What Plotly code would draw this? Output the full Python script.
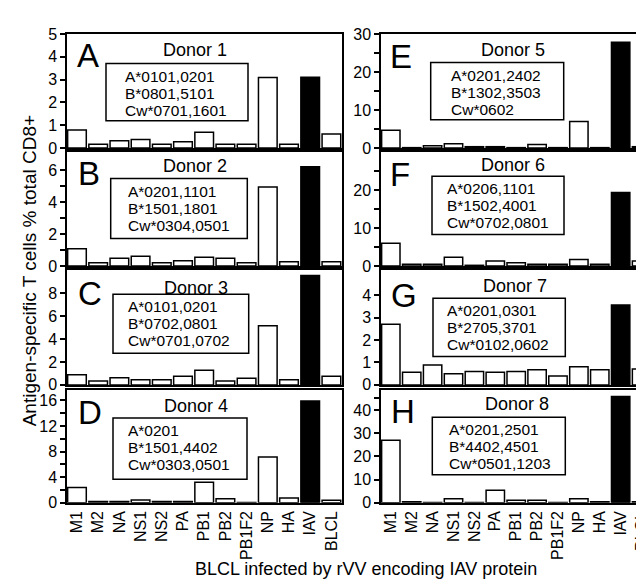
import plotly.graph_objects as go

# ---------------- data ----------------
categories = ["M1", "M2", "NA", "NS1", "NS2", "PA", "PB1", "PB2", "PB1F2", "NP", "HA", "IAV", "BLCL"]

donor1 = [0.79, 0.16, 0.32, 0.37, 0.16, 0.27, 0.69, 0.16, 0.16, 3.09, 0.16, 3.10, 0.62]
donor2 = [1.07, 0.20, 0.48, 0.60, 0.20, 0.32, 0.54, 0.48, 0.20, 4.93, 0.26, 6.20, 0.26]
donor3 = [0.88, 0.34, 0.62, 0.45, 0.45, 0.76, 1.27, 0.34, 0.57, 5.16, 0.45, 9.55, 0.76]
donor4 = [2.40, 0.20, 0.20, 0.46, 0.20, 0.20, 3.20, 0.62, 0.05, 7.16, 0.77, 15.9, 0.40]
donor5 = [4.70, 0.10, 0.60, 1.10, 0.35, 0.35, 0.10, 0.90, 0.10, 7.00, 0.10, 27.8, 0.35]
donor6 = [6.00, 0.43, 0.43, 2.30, 0.17, 1.30, 0.86, 0.43, 0.43, 1.70, 0.43, 19.4, 1.30]
donor7 = [2.70, 0.56, 0.89, 0.50, 0.60, 0.56, 0.60, 0.67, 0.39, 0.81, 0.67, 3.56, 0.71]
donor8 = [27.0, 0.50, 0.10, 1.80, 0.10, 5.40, 1.10, 1.10, 0.10, 1.80, 0.50, 45.8, 0.50]

panel_letters = ["A", "B", "C", "D", "E", "F", "G", "H"]
donor_names = ["Donor 1", "Donor 2", "Donor 3", "Donor 4", "Donor 5", "Donor 6", "Donor 7", "Donor 8"]
hla_lines = [
    ["A*0101,0201", "B*0801,5101", "Cw*0701,1601"],
    ["A*0201,1101", "B*1501,1801", "Cw*0304,0501"],
    ["A*0101,0201", "B*0702,0801", "Cw*0701,0702"],
    ["A*0201", "B*1501,4402", "Cw*0303,0501"],
    ["A*0201,2402", "B*1302,3503", "Cw*0602"],
    ["A*0206,1101", "B*1502,4001", "Cw*0702,0801"],
    ["A*0201,0301", "B*2705,3701", "Cw*0102,0602"],
    ["A*0201,2501", "B*4402,4501", "Cw*0501,1203"],
]
y_ranges = [[0, 5], [0, 7.1], [0, 10], [0, 17.6], [0, 30], [0, 30], [0, 5.1], [0, 48.5]]
y_ticks = [[0, 1, 2, 3, 4, 5], [0, 2, 4, 6], [0, 2, 4, 6, 8], [0, 4, 8, 12, 16],
           [0, 10, 20, 30], [0, 10, 20], [0, 1, 2, 3, 4], [0, 10, 20, 30, 40]]
y_minor = [[], [1, 3, 5], [], [2, 6, 10, 14], [5, 15, 25], [5, 15, 25], [], [45]]

x_title = "BLCL infected by rVV encoding IAV protein"
y_title = "Antigen-specific T cells % total CD8+"

all_values = [donor1, donor2, donor3, donor4, donor5, donor6, donor7, donor8]

# ---------------- layout geometry (pixels) ----------------
W, H = 644, 581
FONT = "Liberation Sans, Arial, sans-serif"


def px(x):
    return x / W


def py(y):
    return 1 - y / H


row_top = [18.5, 140.5, 262.0, 385.5]
row_bot = [136.0, 257.5, 380.0, 501.5]
col_l = [59, 373]
col_r = [334, 644]

letter_pos = [(80, 41), (81, 162.5), (81.5, 286), (81.5, 408.5),
              (393, 42), (392, 163), (396, 288), (395.5, 407)]
donor_pos = [(187, 35), (187, 155), (188, 280), (188, 401.7),
             (505, 35), (505, 153), (506.7, 278.3), (509, 400)]
boxes = [(98, 240, 49, 108), (102.7, 239.3, 167.3, 229.3), (105, 240.7, 286.7, 347.3), (105, 239, 414, 477.3),
         (422.7, 555.7, 48, 107), (424, 556, 165, 225), (425, 557.3, 290.7, 350.7), (424.3, 557.3, 413.3, 472.7)]
text_left = [115, 118, 118, 118, 440.7, 436.7, 436.7, 439]

fig = go.Figure()
annotations = []
shapes = []

for i in range(8):
    col = i // 4
    row = i % 4
    n = i + 1
    xa = "x" if n == 1 else f"x{n}"
    ya = "y" if n == 1 else f"y{n}"
    vals = all_values[i]
    colors = ["black" if c == "IAV" else "white" for c in categories]
    fig.add_trace(go.Bar(
        x=categories, y=vals, xaxis=xa, yaxis=ya, width=0.88,
        marker=dict(color=colors, line=dict(color="black", width=1.5)),
        showlegend=False, hoverinfo="x+y",
    ))
    bottom = row == 3
    fig.layout[f"xaxis{'' if n == 1 else n}"] = dict(
        domain=[px(col_l[col]), px(col_r[col])],
        anchor=ya, range=[-0.47, 12.5], type="category",
        showline=True, linecolor="black", linewidth=1.5, mirror=True,
        ticks="", showticklabels=bottom, tickangle=-90,
        tickfont=dict(family=FONT, size=16, color="black"),
        showgrid=False, zeroline=False, fixedrange=True,
    )
    fig.layout[f"yaxis{'' if n == 1 else n}"] = dict(
        domain=[py(row_bot[row]), py(row_top[row])],
        anchor=xa, range=y_ranges[i],
        tickmode="array", tickvals=y_ticks[i],
        ticks="outside", ticklen=5, tickwidth=1.5, tickcolor="black",
        minor=dict(tickmode="array", tickvals=y_minor[i], ticks="outside",
                   ticklen=5, tickwidth=1.5, tickcolor="black", showgrid=False),
        showline=True, linecolor="black", linewidth=1.5, mirror=(col == 0),
        tickfont=dict(family=FONT, size=16, color="black"),
        showgrid=False, zeroline=False, fixedrange=True,
    )
    lx, ly = letter_pos[i]
    annotations.append(dict(x=px(lx), y=py(ly), xref="paper", yref="paper", text=panel_letters[i],
                            showarrow=False, xanchor="center", yanchor="middle",
                            font=dict(family=FONT, size=33, color="black")))
    dx, dy = donor_pos[i]
    annotations.append(dict(x=px(dx), y=py(dy), xref="paper", yref="paper", text=donor_names[i],
                            showarrow=False, xanchor="center", yanchor="middle",
                            font=dict(family=FONT, size=18, color="black")))
    bx0, bx1, by0, by1 = boxes[i]
    shapes.append(dict(type="rect", xref="paper", yref="paper", x0=px(bx0), x1=px(bx1),
                       y0=py(by1), y1=py(by0), line=dict(color="black", width=1.5),
                       fillcolor="white", layer="above"))
    for k, line in enumerate(hla_lines[i]):
        annotations.append(dict(x=px(text_left[i]), y=py(by0 + 13 + 17.5 * k), xref="paper", yref="paper",
                                text=line, showarrow=False, xanchor="left", yanchor="middle",
                                font=dict(family=FONT, size=15.5, color="black")))

annotations.append(dict(x=px(358), y=py(570), xref="paper", yref="paper", text=x_title,
                        showarrow=False, xanchor="center", yanchor="middle",
                        font=dict(family=FONT, size=18, color="black")))
annotations.append(dict(x=px(21), y=py(263), xref="paper", yref="paper", text=y_title,
                        showarrow=False, xanchor="center", yanchor="middle", textangle=-90,
                        font=dict(family=FONT, size=19, color="black")))

fig.update_layout(
    width=W, height=H,
    margin=dict(l=0, r=0, t=0, b=0),
    paper_bgcolor="white", plot_bgcolor="white",
    bargap=0.1,
    annotations=annotations, shapes=shapes,
    font=dict(family=FONT, color="black"),
)

fig.write_html("out.html", config={"displayModeBar": False})
